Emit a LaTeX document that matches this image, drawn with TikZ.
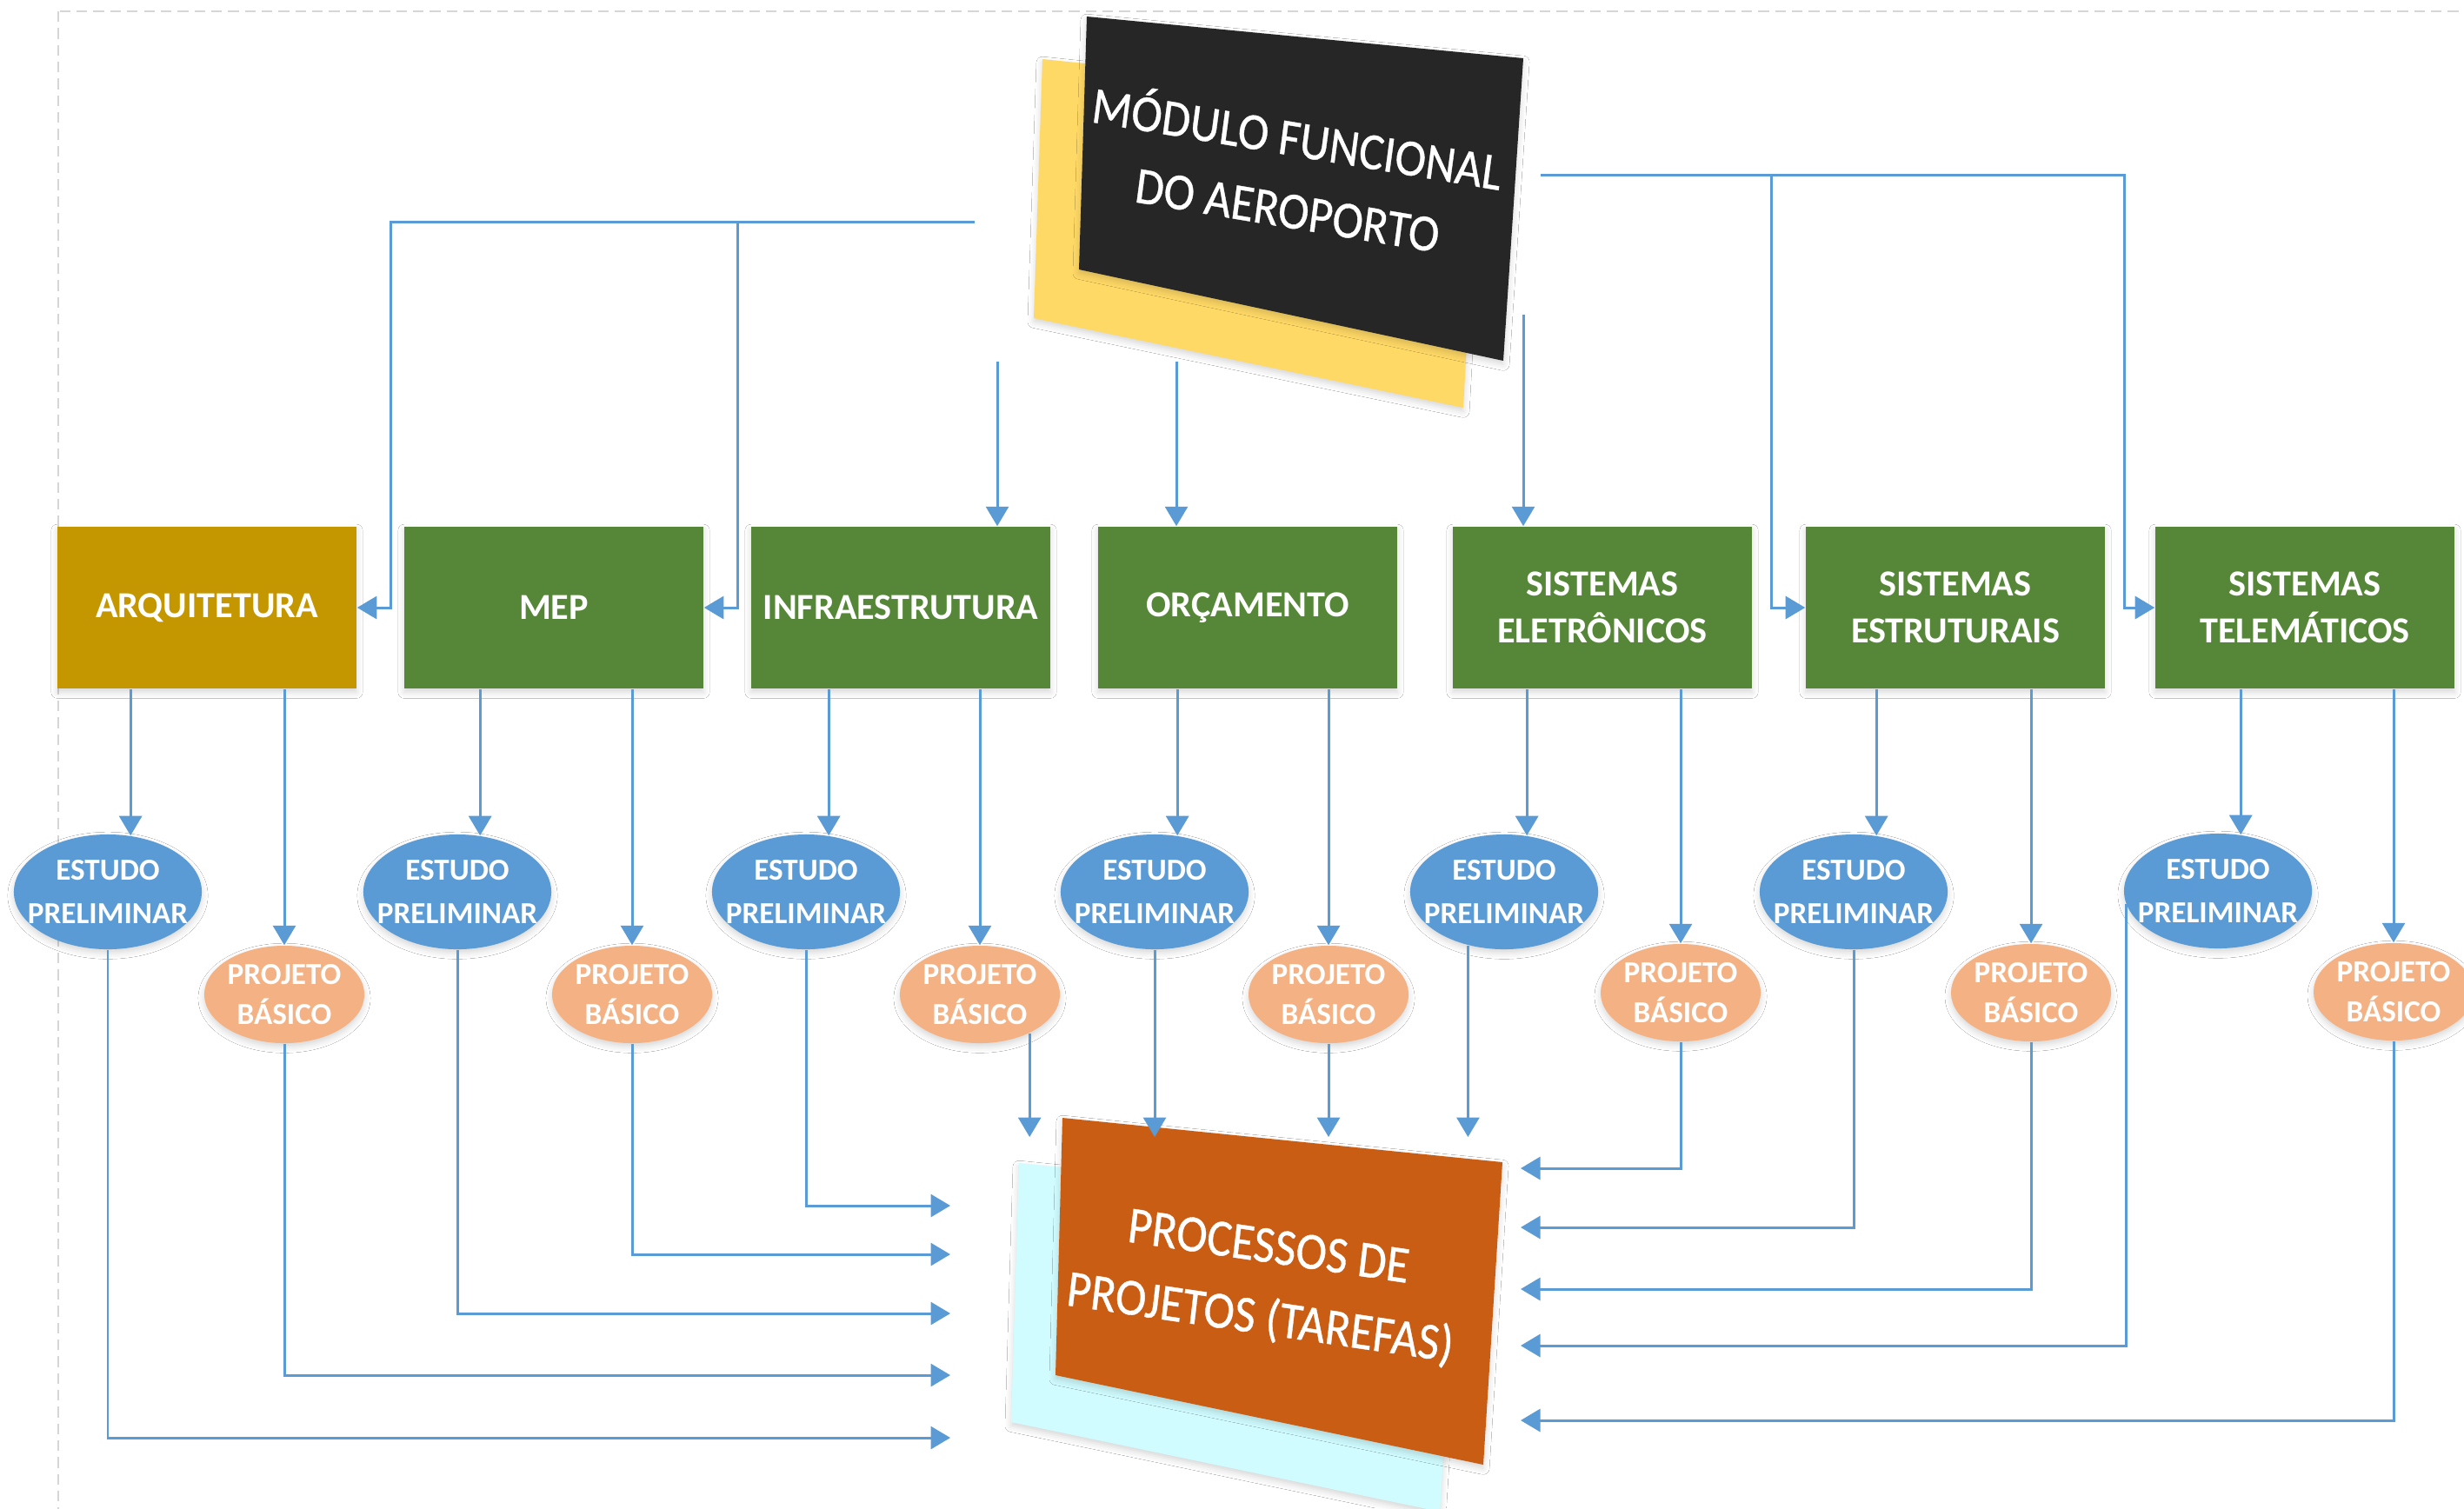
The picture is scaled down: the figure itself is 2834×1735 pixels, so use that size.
\documentclass[tikz,border=0pt]{standalone}
\usepackage{fontspec}
\setmainfont{Carlito}
\newfontfamily\cardfont[FakeBold=0.6]{Carlito}
\usetikzlibrary{shapes.geometric, arrows.meta, shadows.blur}

\definecolor{arqgold}{RGB}{196,150,0}
\definecolor{discgreen}{RGB}{86,135,56}
\definecolor{estblue}{RGB}{91,155,213}
\definecolor{basicpeach}{RGB}{244,177,131}
\definecolor{modblack}{RGB}{38,38,38}
\definecolor{modyellow}{RGB}{255,217,102}
\definecolor{procorange}{RGB}{202,93,20}
\definecolor{proccyan}{RGB}{208,252,255}
\definecolor{linkblue}{RGB}{91,155,213}
\definecolor{framegray}{RGB}{214,214,214}

\tikzset{
  softshadow/.style={blur shadow={shadow xshift=0pt, shadow yshift=-1.2pt,
      shadow blur radius=2pt, shadow opacity=16}},
  disc/.style={rectangle, fill=discgreen, minimum width=3.44cm, minimum height=1.86cm,
      inner sep=0pt, text=white, align=center,
      font=\bfseries\fontsize{12}{15.4}\selectfont, softshadow},
  estudo/.style={ellipse, fill=estblue, minimum width=2.16cm, minimum height=1.32cm,
      inner xsep=-0.2cm, inner ysep=0pt, text=white, align=center,
      font=\bfseries\fontsize{10}{14}\selectfont, softshadow},
  basico/.style={ellipse, fill=basicpeach, minimum width=1.84cm, minimum height=1.12cm,
      inner xsep=-0.1cm, inner ysep=0pt, text=white, align=center,
      font=\bfseries\fontsize{10}{13}\selectfont, softshadow},
  bigtext/.style={text=white, align=center, inner sep=0pt, yscale=1.12,
      font=\cardfont\fontsize{15.2}{21}\selectfont},
  link/.style={draw=linkblue, line width=0.85pt,
      -{Triangle[width=7.4pt,length=6.4pt]}},
}

\begin{document}
\begin{tikzpicture}[x=0.01cm, y=-0.01cm]
\useasboundingbox (0,0) rectangle (2834,1735);
\clip (0,0) rectangle (2834,1735);
\fill[white] (0,0) rectangle (2834,1735);

% page frame
\draw[framegray, line width=0.6pt, dash pattern=on 3.5pt off 2pt]
  (67,13) rectangle (2900,1800);

% airport functional module (two stacked cards)
\fill[modyellow, softshadow] (1199,68) -- (1702,120) -- (1683,469) -- (1189,366) -- cycle;
\fill[modblack, softshadow] (1250,19) -- (1752,67) -- (1729,415) -- (1241,310) -- cycle;
\node[bigtext, rotate=-8.5] (modulo) at (1487,196) {MÓDULO FUNCIONAL\\DO AEROPORTO};

% project processes (two stacked cards)
\fill[proccyan, softshadow] (1172,1338) -- (1678,1389) -- (1656,1739) -- (1163,1636) -- cycle;
\fill[procorange, softshadow] (1222,1286) -- (1728,1337) -- (1706,1685) -- (1214,1582) -- cycle;
\node[bigtext, rotate=-7.5] (processos) at (1454,1478) {PROCESSOS DE\\PROJETOS (TAREFAS)};

% disciplines
\node[disc, fill=arqgold] (ARQ) at (238,699) {ARQUITETURA};
\node[disc] (MEP)   at (637,699)  {MEP};
\node[disc] (INFRA) at (1036,699) {INFRAESTRUTURA};
\node[disc] (ORC)   at (1435,699) {ORÇAMENTO};
\node[disc] (ELET)  at (1843,699) {SISTEMAS\\ELETRÔNICOS};
\node[disc] (ESTR)  at (2249,699) {SISTEMAS\\ESTRUTURAIS};
\node[disc] (TELE)  at (2651,699) {SISTEMAS\\TELEMÁTICOS};

% preliminary studies
\node[estudo] (ES1) at (124,1026)  {ESTUDO\\PRELIMINAR};
\node[estudo] (ES2) at (526,1026)  {ESTUDO\\PRELIMINAR};
\node[estudo] (ES3) at (927,1026)  {ESTUDO\\PRELIMINAR};
\node[estudo] (ES4) at (1328,1026) {ESTUDO\\PRELIMINAR};
\node[estudo] (ES5) at (1730,1026) {ESTUDO\\PRELIMINAR};
\node[estudo] (ES6) at (2132,1026) {ESTUDO\\PRELIMINAR};
\node[estudo] (ES7) at (2551,1025) {ESTUDO\\PRELIMINAR};

% basic designs
\node[basico] (PB1) at (327,1144)  {PROJETO\\BÁSICO};
\node[basico] (PB2) at (727,1144)  {PROJETO\\BÁSICO};
\node[basico] (PB3) at (1127,1144) {PROJETO\\BÁSICO};
\node[basico] (PB4) at (1528,1144) {PROJETO\\BÁSICO};
\node[basico] (PB5) at (1933,1142) {PROJETO\\BÁSICO};
\node[basico] (PB6) at (2336,1142) {PROJETO\\BÁSICO};
\node[basico] (PB7) at (2753,1141) {PROJETO\\BÁSICO};

% module feeds
\coordinate (mL) at (1121,255);
\coordinate (jA) at (449,255);
\coordinate (jM) at (848,255);
\coordinate (mR) at (1772,201);
\coordinate (jE) at (2037,201);
\coordinate (jT) at (2443,201);
\coordinate (sI) at (1147,416);
\coordinate (sO) at (1353,416);
\coordinate (sE) at (1752,362);

\draw[link] (mL) -- (jA) |- (ARQ.east);
\draw[link] (jM) |- (MEP.east);
\draw[link] (mR) -- (jT) |- (TELE.west);
\draw[link] (jE) |- (ESTR.west);
\draw[link] (sI) -- (sI |- INFRA.north);
\draw[link] (sO) -- (sO |- ORC.north);
\draw[link] (sE) -- (sE |- ELET.north);

% discipline -> study / basic design
\foreach \d/\k in {ARQ/1, MEP/2, INFRA/3, ORC/4, ELET/5, ESTR/6, TELE/7} {
  \draw[link] (ES\k.68 |- \d.south) -- (ES\k.68);
  \draw[link] (PB\k.north |- \d.south) -- (PB\k.north);
}

% entry points on the processes card
\coordinate (inT)  at (0,1308);
\coordinate (inL1) at (1093,1387);
\coordinate (inL2) at (1093,1443);
\coordinate (inL3) at (1093,1511);
\coordinate (inL4) at (1093,1582);
\coordinate (inL5) at (1093,1654);
\coordinate (inR1) at (1749,1344);
\coordinate (inR2) at (1749,1412);
\coordinate (inR3) at (1749,1483);
\coordinate (inR4) at (1749,1548);
\coordinate (inR5) at (1749,1634);

\draw[link] (ES3.south) |- (inL1);
\draw[link] (PB2.south) |- (inL2);
\draw[link] (ES2.south) |- (inL3);
\draw[link] (PB1.south) |- (inL4);
\draw[link] (ES1.south) |- (inL5);

\draw[link] (PB3.-38) -- (PB3.-38 |- inT);
\draw[link] (ES4.south) -- (ES4.south |- inT);
\draw[link] (PB4.south) -- (PB4.south |- inT);
\draw[link] (ES5.-124) -- (ES5.-124 |- inT);

\draw[link] (PB5.south) |- (inR1);
\draw[link] (ES6.south) |- (inR2);
\draw[link] (PB6.south) |- (inR3);
\draw[link] (ES7.-172) |- (inR4);
\draw[link] (PB7.south) |- (inR5);
\end{tikzpicture}
\end{document}
